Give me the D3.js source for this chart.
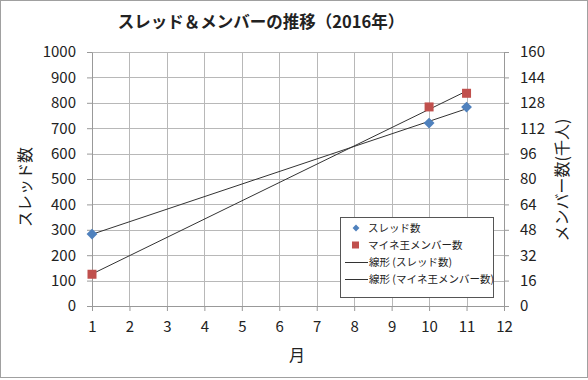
<!DOCTYPE html>
<html>
<head>
<meta charset="utf-8">
<script src="https://cdn.jsdelivr.net/npm/d3@7"></script>
<style>
  body { margin: 0; background: #fff; }
  svg text { font-family: "Noto Sans CJK JP", "DejaVu Sans", sans-serif; fill: #222; }
</style>
</head>
<body>
<script>
// data
var months = [1, 10, 11];
var threads = [283, 720, 783];          // スレッド数
var members = [20, 125.4, 134];         // マイネ王メンバー数 (千人)
var xTicks = d3.range(1, 13);
var yTicks = d3.range(0, 1001, 100);
var y2Ticks = d3.range(0, 161, 16);

var W = 588, H = 380;
var svg = d3.select("body").append("svg").attr("width", W).attr("height", H);

svg.append("rect").attr("x", 0.5).attr("y", 0.5).attr("width", W - 1).attr("height", H - 3)
  .attr("fill", "#fff").attr("stroke", "#a0a0a0");

var x = d3.scaleLinear().domain([1, 12]).range([92, 504]);
var y = d3.scaleLinear().domain([0, 1000]).range([306, 52]);
var y2 = d3.scaleLinear().domain([0, 160]).range([306, 52]);

// grid
var grid = svg.append("g").attr("stroke", "#b8b8b8").attr("stroke-width", 1);
grid.selectAll(".h").data(yTicks.slice(1)).enter().append("line")
  .attr("x1", x(1)).attr("x2", x(12))
  .attr("y1", function(d){ return Math.round(y(d)) + 0.5; })
  .attr("y2", function(d){ return Math.round(y(d)) + 0.5; });
grid.selectAll(".v").data(xTicks.slice(1, -1)).enter().append("line")
  .attr("y1", y(1000)).attr("y2", y(0))
  .attr("x1", function(d){ return Math.round(x(d)) + 0.5; })
  .attr("x2", function(d){ return Math.round(x(d)) + 0.5; });

// axes
function style(g) {
  g.select(".domain").attr("stroke", "#999");
  g.selectAll(".tick line").attr("stroke", "#999");
  g.selectAll(".tick text").attr("font-size", 15).attr("fill", "#222")
    .attr("font-family", "'Noto Sans', sans-serif");
}
svg.append("g").attr("transform", "translate(" + x(1) + ",0)")
  .call(d3.axisLeft(y).tickValues(yTicks).tickFormat(d3.format("d")).tickSizeInner(5).tickSizeOuter(0).tickPadding(11))
  .call(style);
svg.append("g").attr("transform", "translate(" + x(12) + ",0)")
  .call(d3.axisRight(y2).tickValues(y2Ticks).tickSizeInner(5).tickSizeOuter(0).tickPadding(11))
  .call(style);
svg.append("g").attr("transform", "translate(0," + y(0) + ")")
  .call(d3.axisBottom(x).tickValues(xTicks).tickSizeInner(5).tickSizeOuter(0).tickPadding(10))
  .call(style);

// trend lines (least squares)
function fit(xs, ys) {
  var mx = d3.mean(xs), my = d3.mean(ys), sxy = 0, sxx = 0;
  xs.forEach(function(v, i){ sxy += (v - mx) * (ys[i] - my); sxx += (v - mx) * (v - mx); });
  var b = sxy / sxx;
  return function(t){ return my + b * (t - mx); };
}
var f1 = fit(months, threads), f2 = fit(months, members);
svg.append("line").attr("x1", x(1)).attr("x2", x(11)).attr("y1", y(f1(1))).attr("y2", y(f1(11)))
  .attr("stroke", "#333").attr("stroke-width", 1);
svg.append("line").attr("x1", x(1)).attr("x2", x(11)).attr("y1", y2(f2(1))).attr("y2", y2(f2(11)))
  .attr("stroke", "#333").attr("stroke-width", 1);

// markers
var diamond = d3.symbol().type(d3.symbolDiamond2).size(75);
svg.selectAll(".th").data(months).enter().append("path")
  .attr("d", diamond)
  .attr("transform", function(d, i){ return "translate(" + x(d) + "," + y(threads[i]) + ")"; })
  .attr("fill", "#4f81bd");
svg.selectAll(".mb").data(months).enter().append("rect")
  .attr("x", function(d){ return x(d) - 4.5; })
  .attr("y", function(d, i){ return y2(members[i]) - 4.5; })
  .attr("width", 9).attr("height", 9)
  .attr("fill", "#c0504d");

// titles
svg.append("text").attr("x", 261).attr("y", 28).attr("text-anchor", "middle")
  .attr("font-size", 16.5).attr("font-weight", "bold").text("スレッド＆メンバーの推移（2016年）");
svg.append("text").attr("transform", "translate(31,187) rotate(-90)").attr("text-anchor", "middle")
  .attr("font-size", 16).text("スレッド数");
svg.append("text").attr("transform", "translate(568,180) rotate(-90)").attr("text-anchor", "middle")
  .attr("font-size", 16).text("メンバー数(千人)");
svg.append("text").attr("x", 297).attr("y", 361).attr("text-anchor", "middle")
  .attr("font-size", 16).text("月");

// legend
var lg = svg.append("g").attr("transform", "translate(340,217)");
lg.append("rect").attr("x", 0.5).attr("y", 0.5).attr("width", 153).attr("height", 80)
  .attr("fill", "#fff").attr("stroke", "#555");
var items = ["スレッド数", "マイネ王メンバー数", "線形 (スレッド数)", "線形 (マイネ王メンバー数)"];
items.forEach(function(t, i){
  var cy = 11 + i * 17;
  if (i == 0) lg.append("path").attr("d", d3.symbol().type(d3.symbolDiamond2).size(30))
    .attr("transform", "translate(16," + cy + ")").attr("fill", "#4f81bd");
  else if (i == 1) lg.append("rect").attr("x", 12).attr("y", cy - 3.5).attr("width", 7).attr("height", 7)
    .attr("fill", "#c0504d");
  else lg.append("line").attr("x1", 5).attr("x2", 28).attr("y1", cy + 0.5).attr("y2", cy + 0.5)
    .attr("stroke", "#333");
  lg.append("text").attr("x", i < 2 ? 28 : 29).attr("y", cy + 4).attr("font-size", 10.5).text(t);
});
</script>
</body>
</html>
